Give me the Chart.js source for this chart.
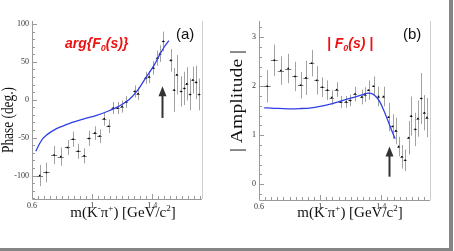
<!DOCTYPE html>
<html>
<head>
<meta charset="utf-8">
<script src="https://cdn.jsdelivr.net/npm/chart.js@4.4.1/dist/chart.umd.min.js"></script>
<style>
  html, body { margin: 0; padding: 0; background: #fff; }
  #frame { position: relative; width: 449px; height: 248px; border-right: 4px solid #858585; border-bottom: 3px solid #858585; overflow: hidden; }
  .panel { position: absolute; top: 0; width: 227px; height: 251px; }
</style>
</head>
<body>
<div id="frame">
  <div class="panel" style="left:0"><canvas id="phaseChart" width="227" height="251"></canvas></div>
  <div class="panel" style="left:227px"><canvas id="ampChart" width="227" height="251"></canvas></div>
</div>
<script>
// --- DATA: panel (a), phase ---
const massA = [0.651, 0.696, 0.747, 0.791, 0.836, 0.873, 0.907, 0.947, 0.978, 1.018, 1.049, 1.080, 1.109, 1.140, 1.169, 1.198, 1.225, 1.283, 1.305, 1.356, 1.378, 1.407, 1.433, 1.451, 1.473, 1.523, 1.545, 1.563, 1.591, 1.613, 1.629, 1.651, 1.669, 1.691, 1.711];
const phase = [-100, -96, -73, -75, -63, -52, -68, -74, -51, -44, -48, -25, -35, -11, -11, -9, -3, 11, 8, 29, 30, 42, 55, 61, 77, 52, 13, 33, 11, 15, 21, 7, 26, 23, 7];
const phaseErr = [14, 13, 12, 12, 10, 10, 10, 10, 10, 9, 9, 9, 9, 8, 8, 8, 8, 8, 8, 8, 8, 9, 10, 11, 13, 15, 29, 26, 20, 22, 22, 21, 18, 22, 21];
const massErrA = [0.022, 0.022, 0.02, 0.02, 0.018, 0.018, 0.017, 0.017, 0.015, 0.015, 0.015, 0.014, 0.014, 0.013, 0.013, 0.012, 0.012, 0.011, 0.011, 0.011, 0.01, 0.01, 0.01, 0.01, 0.01, 0.01, 0.01, 0.01, 0.01, 0.01, 0.01, 0.01, 0.01, 0.01, 0.01];
const fitMassA = [0.625, 0.65, 0.673, 0.7, 0.763, 0.8, 0.873, 0.95, 1.03, 1.1, 1.163, 1.2, 1.25, 1.3, 1.356, 1.41, 1.45, 1.48, 1.51];
const fitPhase = [-68, -58, -51, -46, -38, -35, -29.5, -25, -20.5, -15.5, -10, -6, 1, 12, 29, 45, 60, 70, 78];
const phaseTicks = [-100, -50, 0, 50, 100];

// --- DATA: panel (b), amplitude ---
const massB = [0.654, 0.700, 0.743, 0.791, 0.835, 0.872, 0.907, 0.944, 0.977, 1.014, 1.047, 1.075, 1.108, 1.134, 1.170, 1.196, 1.228, 1.272, 1.294, 1.316, 1.349, 1.381, 1.414, 1.447, 1.473, 1.495, 1.513, 1.534, 1.556, 1.578, 1.595, 1.622, 1.639, 1.661, 1.681, 1.698];
const amplitude = [2.0, 2.53, 2.32, 2.36, 2.2, 2.02, 2.17, 2.47, 2.12, 1.98, 1.92, 1.77, 1.93, 1.68, 1.68, 1.71, 1.84, 1.78, 1.83, 1.92, 2.0, 1.79, 1.79, 1.37, 1.18, 1.09, 0.77, 0.56, 0.49, 0.95, 1.39, 1.12, 1.34, 1.75, 1.46, 1.36];
const ampErr = [0.33, 0.32, 0.29, 0.3, 0.3, 0.27, 0.35, 0.27, 0.29, 0.2, 0.2, 0.15, 0.15, 0.12, 0.12, 0.12, 0.15, 0.15, 0.15, 0.2, 0.2, 0.2, 0.2, 0.29, 0.25, 0.27, 0.2, 0.24, 0.22, 0.34, 0.4, 0.34, 0.37, 0.52, 0.36, 0.4];
const massErrB = [0.022, 0.022, 0.02, 0.02, 0.018, 0.018, 0.017, 0.017, 0.015, 0.015, 0.015, 0.014, 0.014, 0.013, 0.013, 0.012, 0.012, 0.011, 0.011, 0.011, 0.01, 0.01, 0.01, 0.01, 0.01, 0.01, 0.01, 0.01, 0.01, 0.01, 0.01, 0.01, 0.01, 0.01, 0.01, 0.01];
const fitMassB = [0.634, 0.7, 0.789, 0.87, 0.942, 1.0, 1.06, 1.117, 1.17, 1.226, 1.28, 1.313, 1.345, 1.37, 1.39, 1.414, 1.434, 1.45, 1.467, 1.49];
const fitAmp = [1.56, 1.55, 1.54, 1.545, 1.56, 1.59, 1.63, 1.68, 1.73, 1.78, 1.83, 1.86, 1.84, 1.77, 1.68, 1.52, 1.37, 1.24, 1.10, 0.93];
const ampTicks = [0, 1, 2, 3];

const massTicks = [0.6, 1, 1.4];

// --- STYLE HELPERS ---
const SERIF = "'Liberation Serif', 'Times New Roman', serif";
const SANS = "'Liberation Sans', Arial, sans-serif";
const RED = '#ee1111';

// draws a run of text pieces (for sub/superscripts) starting at x
const drawRun = (ctx, parts, x, y, align) => {
    let total = 0;
    parts.forEach(p => { ctx.font = p.font; total += ctx.measureText(p.t).width; });
    let cx = align === 'center' ? x - total / 2 : x;
    parts.forEach(p => {
        ctx.font = p.font;
        ctx.fillText(p.t, cx, y + (p.dy || 0));
        cx += ctx.measureText(p.t).width;
    });
};

const errorBarPlugin = {
    id: 'errorBars',
    beforeDatasetsDraw(chart, args, opts) {
        const { ctx, scales: { x, y } } = chart;
        ctx.save();
        ctx.lineWidth = 1;
        opts.xs.forEach((m, i) => {
            const px = Math.round(x.getPixelForValue(m)) + 0.5;
            const py = y.getPixelForValue(opts.ys[i]);
            ctx.strokeStyle = '#a2a2a2';
            ctx.beginPath();
            ctx.moveTo(px, y.getPixelForValue(opts.ys[i] - opts.err[i]));
            ctx.lineTo(px, y.getPixelForValue(opts.ys[i] + opts.err[i]));
            ctx.stroke();
            ctx.strokeStyle = '#777';
            ctx.beginPath();
            ctx.moveTo(x.getPixelForValue(m - opts.xerr[i]), Math.round(py) + 0.5);
            ctx.lineTo(x.getPixelForValue(m + opts.xerr[i]), Math.round(py) + 0.5);
            ctx.stroke();
        });
        ctx.restore();
    }
};

const framePlugin = {
    id: 'frame',
    afterDraw(chart, args, opts) {
        const { ctx, chartArea: a, scales: { x, y } } = chart;
        ctx.save();
        // axes
        ctx.lineWidth = 1;
        ctx.strokeStyle = '#9a9a9a';
        ctx.beginPath();
        ctx.moveTo(a.left + 0.5, a.top);
        ctx.lineTo(a.left + 0.5, a.bottom + 0.5);
        ctx.lineTo(a.right, a.bottom + 0.5);
        ctx.stroke();
        ctx.strokeStyle = '#cfcfcf';
        ctx.beginPath();
        ctx.moveTo(a.right + 0.5, a.top);
        ctx.lineTo(a.right + 0.5, a.bottom);
        ctx.stroke();
        // inward tick marks
        ctx.strokeStyle = '#9a9a9a';
        ctx.beginPath();
        for (let v = opts.yMinorStart; v <= y.max; v += opts.yMinor) {
            const major = opts.yMajor.some(t => Math.abs(t - v) < 1e-6);
            const py = Math.round(y.getPixelForValue(v)) + 0.5;
            ctx.moveTo(a.left, py);
            ctx.lineTo(a.left + (major ? 5 : 3), py);
        }
        for (let v = 0.6; v <= x.max; v += 0.04) {
            const major = massTicks.some(t => Math.abs(t - v) < 1e-6);
            const px = Math.round(x.getPixelForValue(v)) + 0.5;
            ctx.moveTo(px, a.bottom);
            ctx.lineTo(px, a.bottom - (major ? 5 : 3));
        }
        ctx.stroke();

        // arrow
        const ax = Math.round(x.getPixelForValue(opts.arrow.x)) + 0.5;
        const ay0 = y.getPixelForValue(opts.arrow.from);
        const ay1 = y.getPixelForValue(opts.arrow.to);
        ctx.strokeStyle = '#333';
        ctx.fillStyle = '#333';
        ctx.lineWidth = 2;
        ctx.beginPath();
        ctx.moveTo(ax, ay0);
        ctx.lineTo(ax, ay1 + 8);
        ctx.stroke();
        ctx.beginPath();
        ctx.moveTo(ax, ay1);
        ctx.lineTo(ax - 4, ay1 + 10);
        ctx.lineTo(ax + 4, ay1 + 10);
        ctx.closePath();
        ctx.fill();

        // titles
        ctx.fillStyle = RED;
        ctx.textAlign = 'left';
        ctx.textBaseline = 'alphabetic';
        const big = `italic bold 14px ${SANS}`;
        const sub = `italic bold 9px ${SANS}`;
        drawRun(ctx, [
            { t: opts.title[0], font: big },
            { t: '0', font: sub, dy: 3 },
            { t: opts.title[1], font: big }
        ], opts.titleX, 48);

        ctx.fillStyle = '#111';
        ctx.font = `15px ${SANS}`;
        ctx.fillText(opts.tag, 176, 39);

        // x axis title
        const xf = `15px ${SERIF}`;
        const sup = `9px ${SERIF}`;
        drawRun(ctx, [
            { t: 'm(K', font: xf },
            { t: '-', font: sup, dy: -6 },
            { t: 'π', font: xf },
            { t: '+', font: sup, dy: -6 },
            { t: ') [GeV/c', font: xf },
            { t: '2', font: sup, dy: -6 },
            { t: ']', font: xf }
        ], a.left + 91, 217, 'center');

        // y axis title, stretched along its length
        ctx.save();
        ctx.font = `16px ${SERIF}`;
        ctx.textAlign = 'center';
        ctx.textBaseline = 'middle';
        ctx.translate(opts.yTitle.x, opts.yTitle.y);
        ctx.rotate(-Math.PI / 2);
        const w = ctx.measureText(opts.yTitle.text).width;
        ctx.scale(opts.yTitle.len / w, 1);
        ctx.fillText(opts.yTitle.text, 0, 0);
        ctx.restore();

        ctx.restore();
    }
};

const fixTicks = list => scale => { scale.ticks = list.map(v => ({ value: v })); };

const buildChart = (id, cfg) => new Chart(document.getElementById(id), {
    data: {
        datasets: [
            {
                type: 'line',
                data: cfg.fitX.map((m, i) => ({ x: m, y: cfg.fitY[i] })),
                borderColor: '#2f3fe6',
                borderWidth: 1.3,
                pointRadius: 0,
                cubicInterpolationMode: 'monotone',
                fill: false
            },
            {
                type: 'scatter',
                data: cfg.xs.map((m, i) => ({ x: m, y: cfg.ys[i] })),
                backgroundColor: '#000',
                borderColor: '#000',
                pointStyle: 'rect',
                pointRadius: 1.1,
                borderWidth: 0
            }
        ]
    },
    options: {
        responsive: false,
        animation: false,
        devicePixelRatio: 1,
        layout: { padding: { left: 0, top: 21, right: cfg.padRight, bottom: 0 } },
        plugins: {
            legend: { display: false },
            tooltip: { enabled: false },
            errorBars: { xs: cfg.xs, ys: cfg.ys, err: cfg.err, xerr: cfg.xerr },
            frame: cfg.frame
        },
        scales: {
            x: {
                type: 'linear',
                min: 0.6,
                max: cfg.xMax,
                grid: { display: false, drawTicks: false },
                border: { display: false },
                afterBuildTicks: fixTicks(massTicks),
                afterFit: s => { s.height = cfg.xHeight; },
                ticks: { font: { family: SERIF, size: 8 }, color: '#333', padding: 2, maxRotation: 0, autoSkip: false, callback: v => String(v) }
            },
            y: {
                type: 'linear',
                min: cfg.yMin,
                max: cfg.yMax,
                grid: { display: false, drawTicks: false },
                border: { display: false },
                afterBuildTicks: fixTicks(cfg.yTicks),
                afterFit: s => { s.width = 32; },
                ticks: { font: { family: SERIF, size: 8 }, color: '#333', padding: 3, autoSkip: false, callback: v => String(v) }
            }
        }
    },
    plugins: [errorBarPlugin, framePlugin]
});

buildChart('phaseChart', {
    xs: massA, ys: phase, err: phaseErr, xerr: massErrA,
    fitX: fitMassA, fitY: fitPhase,
    yMin: -131, yMax: 104, yTicks: phaseTicks, xMax: 1.73,
    padRight: 25, xHeight: 52,
    frame: {
        yMinor: 10, yMinorStart: -130, yMajor: phaseTicks,
        arrow: { x: 1.463, from: -24, to: 18 },
        title: ['arg{F', '(s)}'], titleX: 65, tag: '(a)',
        yTitle: { text: 'Phase (deg.)', x: 9, y: 120, len: 66 }
    }
});

buildChart('ampChart', {
    xs: massB, ys: amplitude, err: ampErr, xerr: massErrB,
    fitX: fitMassB, fitY: fitAmp,
    yMin: -0.32, yMax: 3.33, yTicks: ampTicks, xMax: 1.718,
    padRight: 24, xHeight: 51,
    frame: {
        yMinor: 0.2, yMinorStart: -0.2, yMajor: ampTicks,
        arrow: { x: 1.447, from: 0.155, to: 0.77 },
        title: ['| F', '(s) |'], titleX: 100, tag: '(b)',
        yTitle: { text: '| Amplitude |', x: 11, y: 101, len: 102 }
    }
});
</script>
</body>
</html>
